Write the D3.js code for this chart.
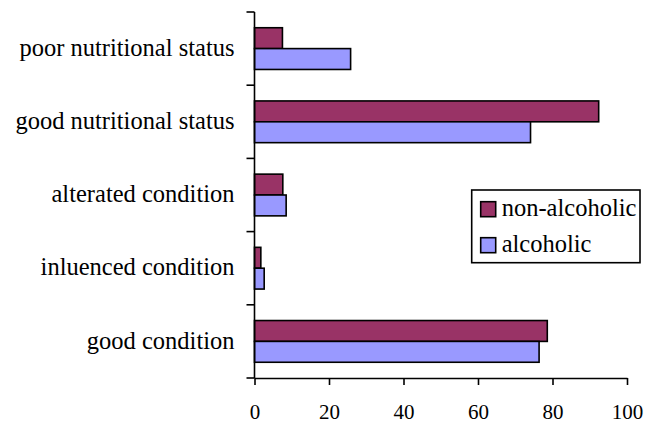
<!DOCTYPE html>
<html>
<head>
<meta charset="utf-8">
<script src="https://cdn.jsdelivr.net/npm/d3@7"></script>
<style>
  html, body { margin: 0; padding: 0; background: #fff; }
  svg { display: block; }
  svg text { font-family: "Liberation Serif", Tinos, "Times New Roman", "DejaVu Serif", serif !important; fill: #000; }
</style>
</head>
<body>
<svg id="chart" width="646" height="423"></svg>
<script>
// Categories, top to bottom
const categories = [
  "poor nutritional status",
  "good nutritional status",
  "alterated condition",
  "inluenced condition",
  "good condition"
];
const seriesNames = ["non-alcoholic", "alcoholic"];
const nonAlcoholic = [7.5, 92.4, 7.6, 1.7, 78.6];
const alcoholic = [25.8, 74.1, 8.5, 2.6, 76.4];
const xTicks = [0, 20, 40, 60, 80, 100];
const colors = ["#993366", "#9999FF"];

const serifFont = "'Liberation Serif', Tinos, 'Times New Roman', 'DejaVu Serif', serif";
const labelSize = 24.5, tickSize = 21;

const rows = categories.map((c, i) => ({ cat: c, values: [nonAlcoholic[i], alcoholic[i]] }));

const svg = d3.select("#chart");
const plotLeft = 254.5, plotRight = 627, plotTop = 12, plotBottom = 378;

const x = d3.scaleLinear().domain([0, 100]).range([plotLeft, plotRight]);
const y = d3.scaleBand().domain(categories).range([plotTop, plotBottom]).paddingInner(0.43).paddingOuter(0.215);
const ySub = d3.scaleBand().domain(seriesNames).range([0, y.bandwidth()]);

// Bars
const groups = svg.append("g").selectAll("g").data(rows).join("g")
  .attr("transform", d => `translate(0,${y(d.cat)})`);
groups.selectAll("rect").data(d => d.values.map((v, k) => ({ v, k })))
  .join("rect")
  .attr("x", x(0))
  .attr("y", d => ySub(seriesNames[d.k]))
  .attr("width", d => x(d.v) - x(0))
  .attr("height", ySub.bandwidth())
  .attr("fill", d => colors[d.k])
  .attr("stroke", "#000")
  .attr("stroke-width", 1.6);

// X axis
const xAxis = svg.append("g").attr("transform", `translate(0,${plotBottom})`)
  .call(d3.axisBottom(x).tickValues(xTicks).tickSize(7).tickPadding(19).tickSizeOuter(0));
xAxis.attr("font-family", serifFont).attr("font-size", tickSize);
xAxis.select(".domain").attr("stroke", "#000").attr("stroke-width", 1.6);
xAxis.selectAll(".tick line").attr("stroke", "#000").attr("stroke-width", 1.6);
xAxis.selectAll(".tick text").attr("font-size", tickSize).style("font-family", serifFont);

// Y axis: ticks at category boundaries
const step = (plotBottom - plotTop) / categories.length;
const bounds = d3.range(categories.length + 1).map(i => plotTop + i * step);
svg.append("line").attr("x1", plotLeft).attr("x2", plotLeft).attr("y1", plotTop).attr("y2", plotBottom)
  .attr("stroke", "#000").attr("stroke-width", 1.6);
svg.append("g").selectAll("line").data(bounds).join("line")
  .attr("x1", plotLeft - 8).attr("x2", plotLeft).attr("y1", d => d).attr("y2", d => d)
  .attr("stroke", "#000").attr("stroke-width", 1.6);

// Category labels
svg.append("g").selectAll("text").data(categories).join("text")
  .attr("x", plotLeft - 20)
  .attr("y", d => y(d) + y.bandwidth() / 2)
  .attr("dy", "0.29em")
  .attr("text-anchor", "end")
  .attr("font-size", labelSize)
  .style("font-family", serifFont)
  .text(d => d);

// Legend
const legend = svg.append("g");
legend.append("rect").attr("x", 471.7).attr("y", 190).attr("width", 168.3).attr("height", 72.7)
  .attr("fill", "#fff").attr("stroke", "#000").attr("stroke-width", 1.6);
seriesNames.forEach((name, i) => {
  const yy = 201.7 + i * 36;
  legend.append("rect").attr("x", 480.7).attr("y", yy).attr("width", 15).attr("height", 15)
    .attr("fill", colors[i]).attr("stroke", "#000").attr("stroke-width", 1.6);
  legend.append("text").attr("x", 501.7).attr("y", yy + 14)
    .attr("font-size", labelSize).style("font-family", serifFont).text(name);
});
</script>
</body>
</html>
